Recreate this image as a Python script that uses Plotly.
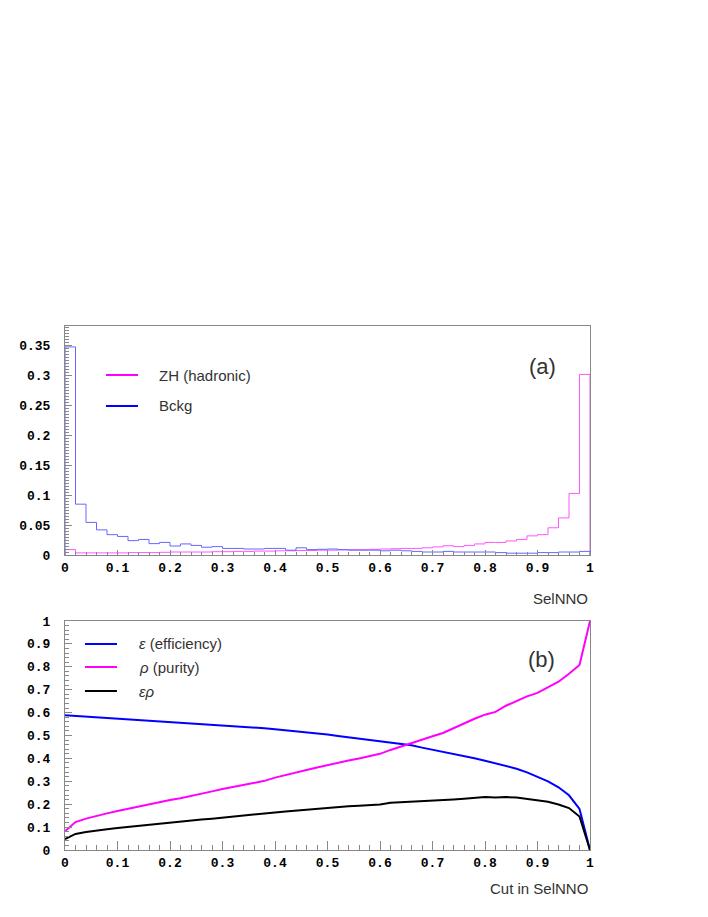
import numpy as np
import plotly.graph_objects as go

# %% histogram contents, 50 bins of SelNNO in [0, 1]
bin_edges = np.linspace(0, 1, 51)
zh_hadronic = [0.009, 0.0035, 0.0035, 0.0035, 0.0035, 0.0035, 0.004, 0.004, 0.004, 0.0045,
               0.005, 0.005, 0.005, 0.005, 0.0055, 0.0055, 0.006, 0.006, 0.0065, 0.0065,
               0.007, 0.007, 0.0075, 0.0075, 0.008, 0.008, 0.0085, 0.009, 0.009, 0.0095,
               0.010, 0.0105, 0.011, 0.011, 0.012, 0.0135, 0.0155, 0.014, 0.016, 0.0185,
               0.021, 0.021, 0.0235, 0.026, 0.032, 0.034, 0.0455, 0.062, 0.103, 0.302]
bckg = [0.348, 0.085, 0.0545, 0.042, 0.034, 0.031, 0.024, 0.026, 0.019, 0.021,
        0.015, 0.0185, 0.016, 0.013, 0.014, 0.011, 0.011, 0.010, 0.010, 0.011,
        0.011, 0.008, 0.012, 0.009, 0.0095, 0.010, 0.009, 0.008, 0.008, 0.008,
        0.007, 0.008, 0.007, 0.006, 0.005, 0.005, 0.006, 0.005, 0.005, 0.005,
        0.005, 0.004, 0.003, 0.003, 0.003, 0.004, 0.004, 0.005, 0.005, 0.006]

# %% efficiency / purity vs cut
cuts = np.round(np.linspace(0, 1, 51), 2)
efficiency = [0.588, 0.585, 0.583, 0.580, 0.577, 0.574, 0.572, 0.570, 0.567, 0.564,
              0.560, 0.558, 0.555, 0.552, 0.549, 0.546, 0.543, 0.539, 0.536, 0.532,
              0.527, 0.523, 0.519, 0.515, 0.510, 0.504, 0.498, 0.492, 0.486, 0.480,
              0.475, 0.470, 0.464, 0.457, 0.447, 0.438, 0.430, 0.421, 0.412, 0.401,
              0.390, 0.379, 0.367, 0.355, 0.339, 0.318, 0.300, 0.274, 0.239, 0.179, 0.0]
purity = [0.082, 0.122, 0.137, 0.150, 0.160, 0.170, 0.180, 0.190, 0.200, 0.208,
          0.218, 0.226, 0.237, 0.246, 0.256, 0.266, 0.275, 0.284, 0.293, 0.302,
          0.316, 0.326, 0.337, 0.349, 0.360, 0.371, 0.382, 0.391, 0.400, 0.409,
          0.420, 0.437, 0.452, 0.467, 0.485, 0.497, 0.511, 0.532, 0.554, 0.573,
          0.591, 0.603, 0.630, 0.652, 0.671, 0.686, 0.710, 0.735, 0.770, 0.808, 1.0]
eff_pur = [0.048, 0.070, 0.079, 0.086, 0.091, 0.096, 0.101, 0.106, 0.111, 0.114,
           0.119, 0.123, 0.128, 0.133, 0.137, 0.142, 0.146, 0.150, 0.154, 0.159,
           0.164, 0.168, 0.172, 0.177, 0.181, 0.185, 0.189, 0.191, 0.193, 0.195,
           0.199, 0.206, 0.208, 0.211, 0.214, 0.216, 0.218, 0.221, 0.224, 0.228,
           0.231, 0.229, 0.231, 0.229, 0.224, 0.216, 0.211, 0.199, 0.183, 0.146, 0.0]


def step(vals):
    # ROOT-like outline: up from 0 at the left edge, down to 0 at the right edge
    xs = [0.0] + list(bin_edges[:-1]) + [1.0]
    ys = [0.0] + list(vals) + [0.0]
    return xs, ys


fig = go.Figure()
x, y = step(zh_hadronic)
fig.add_trace(go.Scatter(x=x, y=y, mode="lines", line=dict(color="#ff55ff", width=1, shape="hv"),
                         xaxis="x", yaxis="y"))
x, y = step(bckg)
fig.add_trace(go.Scatter(x=x, y=y, mode="lines", line=dict(color="#6666ff", width=1, shape="hv"),
                         xaxis="x", yaxis="y"))

fig.add_trace(go.Scatter(x=cuts, y=efficiency, mode="lines", line=dict(color="#0000ff", width=2),
                         xaxis="x2", yaxis="y2"))
fig.add_trace(go.Scatter(x=cuts, y=purity, mode="lines", line=dict(color="#ff00ff", width=2),
                         xaxis="x2", yaxis="y2"))
fig.add_trace(go.Scatter(x=cuts, y=eff_pur, mode="lines", line=dict(color="#000000", width=2),
                         xaxis="x2", yaxis="y2"))

tickfont = dict(family="Liberation Mono", size=13, color="black", weight="bold")
frame = dict(showline=True, linecolor="#888888", linewidth=1, mirror=True, showgrid=False,
             zeroline=False, ticks="inside", tickcolor="#888888", tickfont=tickfont)

fig.update_layout(
    width=708, height=917,
    margin=dict(l=57, r=126, t=318, b=75),
    paper_bgcolor="white", plot_bgcolor="white",
    showlegend=False,
    xaxis=dict(frame, domain=[0, 1], range=[0, 1], dtick=0.1, ticklen=5, anchor="y",
               minor=dict(dtick=0.02, ticklen=3, ticks="inside", tickcolor="#888888"),
               ticklabelstandoff=0),
    yaxis=dict(frame, domain=[0.563, 1], range=[0, 0.383], dtick=0.05, ticklen=7, anchor="x",
               minor=dict(dtick=0.005, ticklen=4, ticks="inside", tickcolor="#888888"),
               ticklabelstandoff=11),
    xaxis2=dict(frame, domain=[0, 1], range=[0, 1], dtick=0.1, ticklen=9, anchor="y2",
                minor=dict(dtick=0.02, ticklen=5, ticks="inside", tickcolor="#888888"),
                ticklabelstandoff=0),
    yaxis2=dict(frame, domain=[0, 0.437], range=[0, 1], dtick=0.1, ticklen=7, anchor="x2",
                minor=dict(dtick=0.02, ticklen=4, ticks="inside", tickcolor="#888888"),
                ticklabelstandoff=11),
)

txt = dict(family="Liberation Sans", size=15, color="#333333")

# legend (a)
for yy, col, label in [(0.786, "#ff00ff", "ZH (hadronic)"), (0.651, "#0000ff", "Bckg")]:
    fig.add_shape(type="line", xref="x domain", yref="y domain", x0=0.078, x1=0.139, y0=yy, y1=yy,
                  line=dict(color=col, width=2))
    fig.add_annotation(xref="x domain", yref="y domain", x=0.175, y=yy, text=label, showarrow=False,
                       xanchor="left", yanchor="middle", font=txt)

# legend (b)
for yy, col, label in [(0.900, "#0000ff", "<i>ε</i> (efficiency)"), (0.799, "#ff00ff", "<i>ρ</i> (purity)"),
                       (0.694, "#000000", "<i>ερ</i>")]:
    fig.add_shape(type="line", xref="x2 domain", yref="y2 domain", x0=0.038, x1=0.099, y0=yy, y1=yy,
                  line=dict(color=col, width=2))
    fig.add_annotation(xref="x2 domain", yref="y2 domain", x=0.137, y=yy, text=label, showarrow=False,
                       xanchor="left", yanchor="middle", font=txt)

fig.add_annotation(xref="x domain", yref="y domain", x=0.939, y=0.886, text="(a)", showarrow=False,
                   font=dict(family="Liberation Sans", size=22, color="#333333"))
fig.add_annotation(xref="x2 domain", yref="y2 domain", x=0.937, y=0.895, text="(b)", showarrow=False,
                   font=dict(family="Liberation Sans", size=22, color="#333333"))

fig.add_annotation(xref="x domain", yref="y domain", x=1.0, y=-0.188, text="SelNNO", showarrow=False,
                   xanchor="right", yanchor="middle", font=txt)
fig.add_annotation(xref="x2 domain", yref="y2 domain", x=1.0, y=-0.166, text="Cut in SelNNO",
                   showarrow=False, xanchor="right", yanchor="middle", font=txt)

fig.write_html("out.html")
